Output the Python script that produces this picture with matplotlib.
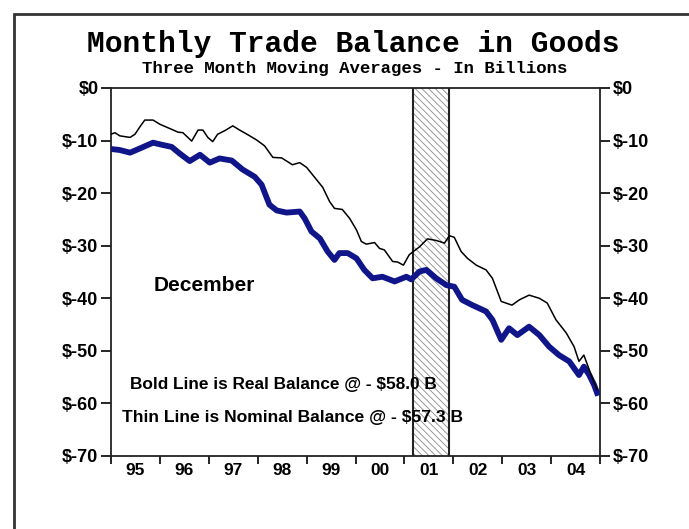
import matplotlib.pyplot as plt
from matplotlib.patches import Rectangle

# nominal balance (thin line), billions, 3-month moving average
nom_x = [1995.00, 1995.08, 1995.18, 1995.39, 1995.49, 1995.59, 1995.69, 1995.86, 1996.00, 1996.20,
         1996.37, 1996.47, 1996.65, 1996.78, 1996.88, 1996.98, 1997.08, 1997.18, 1997.33, 1997.49,
         1997.63, 1997.80, 1997.98, 1998.14, 1998.31, 1998.49, 1998.71, 1998.86, 1999.00, 1999.20,
         1999.33, 1999.47, 1999.57, 1999.73, 1999.88, 2000.02, 2000.12, 2000.22, 2000.39, 2000.49,
         2000.59, 2000.76, 2000.86, 2000.98, 2001.10, 2001.31, 2001.47, 2001.65, 2001.82, 2001.92,
         2002.02, 2002.16, 2002.29, 2002.47, 2002.67, 2002.80, 2002.98, 2003.20, 2003.35, 2003.55,
         2003.76, 2003.92, 2004.10, 2004.31, 2004.47, 2004.57, 2004.67, 2004.78, 2004.88, 2004.94]
nom_y = [-8.8, -8.5, -9.1, -9.4, -8.8, -7.4, -6.1, -6.1, -6.9, -7.7,
         -8.4, -8.5, -10.1, -8.0, -8.0, -9.4, -10.2, -8.8, -8.1, -7.2,
         -8.0, -8.9, -9.9, -11.0, -13.2, -13.3, -14.6, -14.2, -15.1, -17.4,
         -18.9, -21.6, -22.9, -23.1, -24.8, -27.0, -29.2, -29.7, -29.4, -30.5,
         -30.8, -33.0, -33.1, -33.7, -31.7, -30.2, -28.7, -29.0, -29.5, -28.1,
         -28.4, -31.1, -32.4, -33.7, -34.6, -36.2, -40.6, -41.3, -40.3, -39.4,
         -40.0, -40.9, -44.1, -46.6, -49.2, -52.0, -50.8, -53.6, -56.1, -57.3]

# real balance (bold line)
real_x = [1995.00, 1995.18, 1995.39, 1995.59, 1995.86, 1996.04, 1996.24, 1996.41, 1996.61, 1996.82,
          1997.02, 1997.22, 1997.47, 1997.69, 1997.94, 1998.08, 1998.24, 1998.39, 1998.59, 1998.86,
          1998.96, 1999.10, 1999.27, 1999.43, 1999.57, 1999.67, 1999.84, 2000.02, 2000.18, 2000.35,
          2000.55, 2000.80, 2001.04, 2001.14, 2001.31, 2001.45, 2001.65, 2001.86, 2002.02, 2002.18,
          2002.39, 2002.67, 2002.80, 2002.98, 2003.14, 2003.31, 2003.55, 2003.76, 2003.96, 2004.16,
          2004.37, 2004.57, 2004.67, 2004.78, 2004.88, 2004.94]
real_y = [-11.6, -11.8, -12.3, -11.5, -10.4, -10.8, -11.2, -12.5, -13.9, -12.7,
          -14.2, -13.4, -13.8, -15.5, -16.9, -18.4, -22.2, -23.3, -23.7, -23.5,
          -24.8, -27.3, -28.6, -31.1, -32.7, -31.4, -31.4, -32.4, -34.6, -36.2,
          -35.9, -36.8, -35.9, -36.4, -34.9, -34.6, -36.2, -37.5, -37.8, -40.3,
          -41.3, -42.5, -44.1, -47.9, -45.7, -47.0, -45.4, -47.0, -49.2, -50.8,
          -52.0, -54.6, -53.0, -54.6, -56.5, -58.0]

years = list(range(1995, 2005))
year_labels = ['95', '96', '97', '98', '99', '00', '01', '02', '03', '04']
y_ticks = [0, -10, -20, -30, -40, -50, -60, -70]
y_labels = ['$0', '$-10', '$-20', '$-30', '$-40', '$-50', '$-60', '$-70']
recession = (2001.17, 2001.92)

plt.rcParams['font.family'] = ['Liberation Sans', 'DejaVu Sans']
plt.rcParams['hatch.linewidth'] = 0.6

fig = plt.figure(figsize=(6.89, 5.29), dpi=100)
ax = fig.add_axes([111/689, 1-456/529, 489/689, 368/529])

# recession shading
ax.axvspan(recession[0], recession[1], facecolor='white', edgecolor='#8a8a8a',
           hatch='\\\\\\\\\\', lw=0, zorder=1)
for xb in recession:
    ax.axvline(xb, color='#222222', lw=1.5, zorder=2)

ax.plot(real_x, real_y, color='#10168a', lw=4.2, solid_joinstyle='round', zorder=3)
ax.plot(nom_x, nom_y, color='black', lw=1.1, zorder=4)

ax.set_xlim(1995, 2005)
ax.set_ylim(-70, 0)

ax.set_xticks(range(1995, 2006))
ax.set_xticklabels([])
ax.set_xticks([y + 0.5 for y in years], minor=True)
ax.set_xticklabels(year_labels, minor=True, fontsize=12.5, fontweight='bold')
ax.tick_params(axis='x', which='major', direction='out', length=6, width=1.2)
ax.tick_params(axis='x', which='minor', length=0, pad=5)

ax.set_yticks(y_ticks)
ax.set_yticklabels(y_labels, fontsize=13, fontweight='bold')
ax.tick_params(axis='y', which='major', direction='out', length=7, width=1.2,
               left=True, right=True, labelleft=True, labelright=True, pad=2)

for s in ax.spines.values():
    s.set_linewidth(1.3)
    s.set_color('#222222')

ax.text(1996.9, -37.6, 'December', fontsize=15, fontweight='bold',
        ha='center', va='center', zorder=5)
ax.text(1998.52, -56.4, 'Bold Line is Real Balance @ - $58.0 B', fontsize=12.4,
        fontweight='bold', ha='center', va='center', zorder=5)
ax.text(1998.72, -62.6, 'Thin Line is Nominal Balance @ - $57.3 B', fontsize=12.6,
        fontweight='bold', ha='center', va='center', zorder=5)

fig.text(353/689, 1-44/529, 'Monthly Trade Balance in Goods', family='Liberation Mono',
         fontsize=21.3, fontweight='bold', ha='center', va='center')
fig.text(355/689, 1-68/529, 'Three Month Moving Averages - In Billions', family='Liberation Mono',
         fontsize=12.5, fontweight='bold', ha='center', va='center')

# outer frame (cut off at right and bottom)
fig.patches.append(Rectangle((14/689, -0.2), 1.2, 1.2 - 14/529, transform=fig.transFigure,
                             fill=False, edgecolor='#333333', lw=2))

fig.savefig('out.png', dpi=100)
